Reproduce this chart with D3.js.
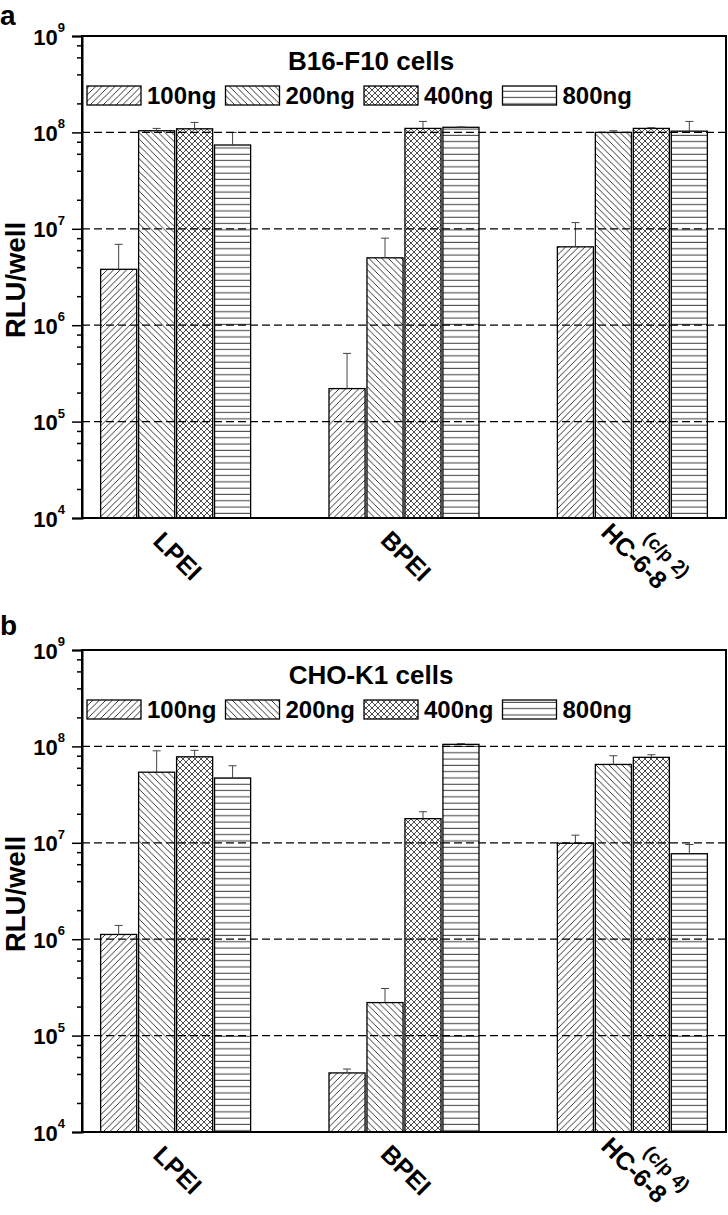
<!DOCTYPE html>
<html>
<head>
<meta charset="utf-8">
<script src="https://cdn.jsdelivr.net/npm/d3@7"></script>
<style>
  html, body { margin: 0; padding: 0; background: #fff; }
  svg { display: block; font-family: "Liberation Sans", Arial, Helvetica, sans-serif; font-weight: bold; }
</style>
</head>
<body>
<svg id="chart" width="728" height="1215"></svg>
<script>
// ---------------- DATA ----------------
const categories = ["LPEI", "BPEI", "HC-6-8"];
const doses = ["100ng", "200ng", "400ng", "800ng"];
const panelLetters = ["a", "b"];
const panelTitles = ["B16-F10 cells", "CHO-K1 cells"];
const hcSubLabels = ["(c/p 2)", "(c/p 4)"];

// B16-F10 (panel a): rows = categories, columns = doses (RLU/well)
const b16Values = [
  [3.8e6, 1.04e8, 1.09e8, 7.4e7],
  [2.2e5, 5.0e6, 1.10e8, 1.13e8],
  [6.5e6, 1.00e8, 1.10e8, 1.03e8]
];
const b16Errors = [
  [3.1e6, 6.0e6, 1.8e7, 2.6e7],
  [2.9e5, 3.0e6, 2.0e7, 1.0e6],
  [5.1e6, 4.0e6, 2.0e6, 2.7e7]
];
// CHO-K1 (panel b)
const choValues = [
  [1.12e6, 5.4e7, 7.8e7, 4.7e7],
  [4.1e4, 2.2e5, 1.78e7, 1.05e8],
  [9.9e6, 6.5e7, 7.7e7, 7.7e6]
];
const choErrors = [
  [2.7e5, 3.6e7, 1.3e7, 1.6e7],
  [4.0e3, 8.8e4, 3.2e6, 2.0e6],
  [2.1e6, 1.5e7, 5.0e6, 1.9e6]
];

const yMajorTicks = [1e4, 1e5, 1e6, 1e7, 1e8, 1e9];
const yTickExponents = ["4", "5", "6", "7", "8", "9"];
const yMinorMultipliers = [2, 4, 6, 8];
const gridValues = [1e5, 1e6, 1e7, 1e8];
const yTitle = "RLU/well";

// ---------------- LAYOUT ----------------
const svg = d3.select("#chart");
const plotLeft = 82, plotRight = 726;
const panels = [
  { top: 36, bottom: 518, values: b16Values, errors: b16Errors },
  { top: 650, bottom: 1132, values: choValues, errors: choErrors }
];

// patterns
const defs = svg.append("defs");
function addPattern(id, size, d, w, sw) {
  const p = defs.append("pattern").attr("id", id)
    .attr("patternUnits", "userSpaceOnUse")
    .attr("width", w || size).attr("height", size);
  p.append("rect").attr("width", w || size).attr("height", size).attr("fill", "#fff");
  p.append("path").attr("d", d).attr("stroke", "#000").attr("stroke-width", sw || 0.8).attr("fill", "none");
}
const s1 = 6.5;
addPattern("p0", s1, `M0,${s1} L${s1},0 M${-s1/2},${s1/2} L${s1/2},${-s1/2} M${s1/2},${s1*1.5} L${s1*1.5},${s1/2}`);
addPattern("p1", s1, `M0,0 L${s1},${s1} M${-s1/2},${s1/2} L${s1/2},${s1*1.5} M${s1/2},${-s1/2} L${s1*1.5},${s1/2}`);
const s3 = 6;
addPattern("p2", s3, `M0,${s3} L${s3},0 M${-s3/2},${s3/2} L${s3/2},${-s3/2} M${s3/2},${s3*1.5} L${s3*1.5},${s3/2} M0,0 L${s3},${s3} M${-s3/2},${s3/2} L${s3/2},${s3*1.5} M${s3/2},${-s3/2} L${s3*1.5},${s3/2}`, null, 0.7);
addPattern("p3", 6.3, `M0,3 L10,3`, 10);

const x = d3.scaleLinear().domain([0.59, 3.41]).range([plotLeft, plotRight]);
const sub = d3.scaleBand().domain(doses).range([-75, 75]).paddingInner(0.05);

panels.forEach((P, pi) => {
  const g = svg.append("g");
  const y = d3.scaleLog().domain([1e4, 1e9]).range([P.bottom, P.top]);

  // panel letter
  svg.append("text").attr("x", 0).attr("y", pi === 0 ? 25 : 635)
    .attr("font-size", 28).text(panelLetters[pi]);

  // bars
  categories.forEach((c, ci) => {
    const cx = x(ci + 1);
    doses.forEach((dname, di) => {
      const v = P.values[ci][di];
      const bx = cx + sub(dname);
      g.append("rect")
        .attr("x", bx).attr("y", y(v))
        .attr("width", sub.bandwidth()).attr("height", y(1e4) - y(v))
        .attr("fill", `url(#p${di})`)
        .attr("stroke", "#000").attr("stroke-width", 1.3);
      // error bar
      const ex = bx + sub.bandwidth() / 2;
      const eTop = y(v + P.errors[ci][di]);
      g.append("line").attr("x1", ex).attr("x2", ex).attr("y1", y(v)).attr("y2", eTop)
        .attr("stroke", "#444").attr("stroke-width", 1);
      g.append("line").attr("x1", ex - 4).attr("x2", ex + 4).attr("y1", eTop).attr("y2", eTop)
        .attr("stroke", "#444").attr("stroke-width", 1);
    });
  });

  // dashed gridlines (drawn over bars)
  g.selectAll(null).data(gridValues).enter().append("line")
    .attr("x1", plotLeft).attr("x2", plotRight)
    .attr("y1", d => y(d)).attr("y2", d => y(d))
    .attr("stroke", "#000").attr("stroke-width", 1.2)
    .attr("stroke-dasharray", "8,4");

  // frame
  g.append("rect").attr("x", plotLeft).attr("y", P.top)
    .attr("width", plotRight - plotLeft).attr("height", P.bottom - P.top)
    .attr("fill", "none").attr("stroke", "#000").attr("stroke-width", 2);

  // minor ticks
  const minor = [];
  for (let e = 4; e < 9; e++) yMinorMultipliers.forEach(m => minor.push(m * Math.pow(10, e)));
  const minorAxis = d3.axisLeft(y).tickValues(minor).tickSize(5).tickFormat("");
  const ma = g.append("g").attr("transform", `translate(${plotLeft},0)`).call(minorAxis);
  ma.select(".domain").remove();
  ma.selectAll("line").attr("stroke-width", 1.5);

  // major ticks with labels 10^n
  const majorAxis = d3.axisLeft(y).tickValues(yMajorTicks).tickSize(10).tickPadding(18).tickFormat("");
  const mj = g.append("g").attr("transform", `translate(${plotLeft},0)`).call(majorAxis);
  mj.select(".domain").attr("stroke-width", 2);
  mj.selectAll("line").attr("stroke-width", 1.5);
  mj.selectAll(".tick text").each(function(d) {
    const t = d3.select(this);
    t.attr("x", -17).attr("dy", null).attr("y", 8)
      .attr("font-family", "'Liberation Sans', Arial, sans-serif")
      .attr("font-weight", "bold").attr("font-size", 22).attr("fill", "#000")
      .attr("text-anchor", "end");
    t.text(null);
    t.append("tspan").text("10");
    t.append("tspan").attr("font-size", 13).attr("dy", -12.5)
      .text(yTickExponents[yMajorTicks.indexOf(d)]);
  });

  // y title
  svg.append("text")
    .attr("transform", `translate(25,${(P.top + P.bottom) / 2 + 3}) rotate(-90)`)
    .attr("text-anchor", "middle").attr("font-size", 27.5).text(yTitle);

  // panel title
  svg.append("text").attr("x", 371).attr("y", P.top + 34)
    .attr("text-anchor", "middle").attr("font-size", 26).text(panelTitles[pi]);

  // legend
  doses.forEach((dname, di) => {
    const lx = 87 + di * 138.5;
    svg.append("rect").attr("x", lx).attr("y", P.top + 50)
      .attr("width", 54).attr("height", 19)
      .attr("fill", `url(#p${di})`).attr("stroke", "#000").attr("stroke-width", 1.3);
    svg.append("text").attr("x", lx + 60).attr("y", P.top + 68)
      .attr("font-size", 24).text(dname);
  });

  // category labels (rotated 45°)
  categories.forEach((c, ci) => {
    const lg = svg.append("g")
      .attr("transform", `translate(${x(ci + 1) + 2},${P.bottom + 38}) rotate(45)`);
    lg.append("text").attr("text-anchor", "middle").attr("dy", "0.35em")
      .attr("font-size", 25).text(c);
    if (ci === 2) {
      lg.append("text").attr("x", 22).attr("y", -24).attr("text-anchor", "middle")
        .attr("dy", "0.35em").attr("font-size", 19).text(hcSubLabels[pi]);
    }
  });
});
</script>
</body>
</html>
